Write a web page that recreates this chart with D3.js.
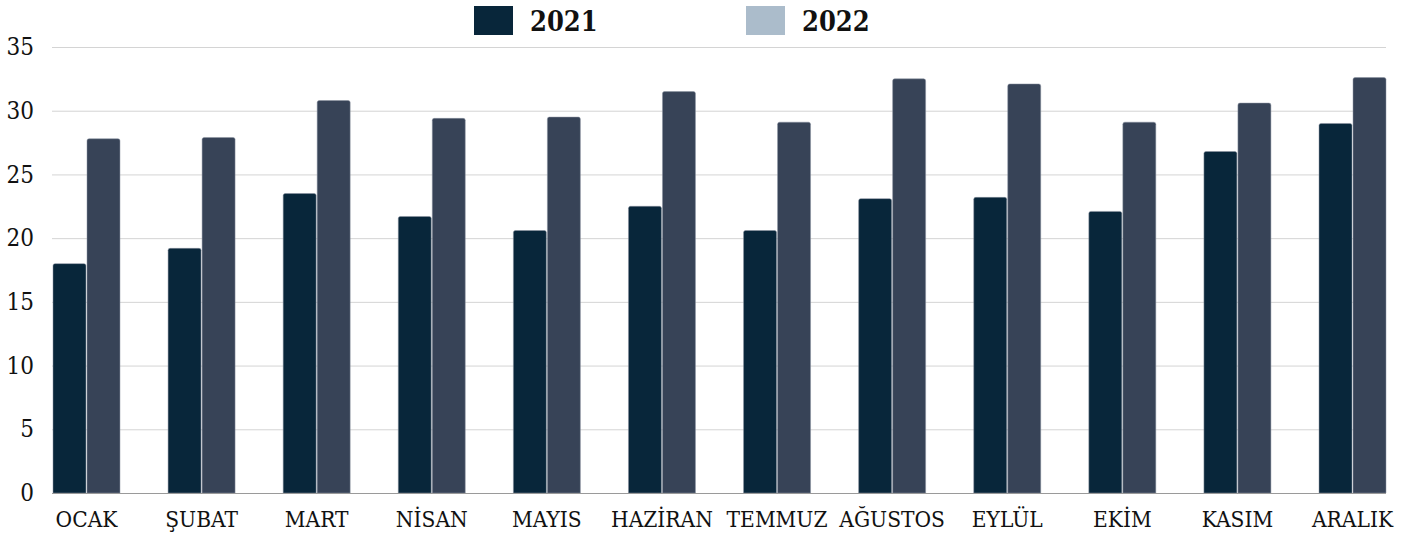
<!DOCTYPE html>
<html>
<head>
<meta charset="utf-8">
<script src="https://cdn.jsdelivr.net/npm/d3@7"></script>
<style>
  html, body { margin: 0; padding: 0; background: #fff; }
  svg { display: block; font-family: "DejaVu Serif Condensed", "DejaVu Serif", serif; }
</style>
</head>
<body>
<div id="chart"></div>
<script>
// Monthly values, 2021 vs 2022
const months = ['OCAK', 'ŞUBAT', 'MART', 'NİSAN', 'MAYIS', 'HAZİRAN', 'TEMMUZ', 'AĞUSTOS', 'EYLÜL', 'EKİM', 'KASIM', 'ARALIK'];
const series = ['2021', '2022'];
const values2021 = [18.0, 19.2, 23.5, 21.7, 20.6, 22.5, 20.6, 23.1, 23.2, 22.1, 26.8, 29.0];
const values2022 = [27.8, 27.9, 30.8, 29.4, 29.5, 31.5, 29.1, 32.5, 32.1, 29.1, 30.6, 32.6];
const yTicks = [0, 5, 10, 15, 20, 25, 30, 35];

(function(){
  const width = 1414, height = 535;
  const barColor = {'2021': '#08263a', '2022': '#374357'};
  const legendColor = {'2021': '#08263a', '2022': '#abbccb'};

  const rows = months.map((m, i) => ({month: m, '2021': values2021[i], '2022': values2022[i]}));

  const svg = d3.select('#chart').append('svg')
    .attr('width', width)
    .attr('height', height);

  const x0 = d3.scaleBand()
    .domain(months)
    .range([53, 1386])
    .paddingInner(0.418)
    .paddingOuter(0);

  const x1 = d3.scaleBand()
    .domain(series)
    .range([0, x0.bandwidth()])
    .paddingInner(0.03);

  const y = d3.scaleLinear()
    .domain([0, 35])
    .range([493, 47]);

  // Gridlines
  svg.append('g')
    .selectAll('line')
    .data(yTicks.filter(d => d > 0))
    .join('line')
    .attr('x1', 52).attr('x2', 1386)
    .attr('y1', d => y(d) + 0.5).attr('y2', d => y(d) + 0.5)
    .attr('stroke', '#d4d4d4')
    .attr('stroke-width', 1);

  // Y tick labels
  const yAxis = svg.append('g')
    .attr('transform', 'translate(52,0)')
    .call(d3.axisLeft(y).tickValues(yTicks).tickSize(0).tickPadding(18));
  yAxis.select('.domain').remove();
  yAxis.selectAll('text')
    .attr('font-family', '"DejaVu Serif Condensed", "DejaVu Serif", serif')
    .attr('font-size', 24)
    .attr('fill', '#111');

  // Bars with slightly rounded tops
  function barPath(xp, w, yTop, yBase, r) {
    return `M${xp},${yBase}V${yTop + r}Q${xp},${yTop} ${xp + r},${yTop}H${xp + w - r}Q${xp + w},${yTop} ${xp + w},${yTop + r}V${yBase}Z`;
  }

  const groups = svg.append('g')
    .selectAll('g')
    .data(rows)
    .join('g')
    .attr('transform', d => `translate(${x0(d.month)},0)`);

  groups.selectAll('path')
    .data(d => series.map(s => ({key: s, value: d[s]})))
    .join('path')
    .attr('d', d => barPath(x1(d.key), x1.bandwidth(), y(d.value), y(0), 2))
    .attr('fill', d => barColor[d.key])
    .attr('stroke', '#8a93a0')
    .attr('stroke-width', 0.5);

  // Baseline
  svg.append('line')
    .attr('x1', 52).attr('x2', 1386)
    .attr('y1', y(0) + 0.5).attr('y2', y(0) + 0.5)
    .attr('stroke', '#9a9a9a')
    .attr('stroke-width', 1);

  // X labels
  const xAxis = svg.append('g')
    .attr('transform', `translate(0,${y(0)})`)
    .call(d3.axisBottom(x0).tickSize(0).tickPadding(18));
  xAxis.select('.domain').remove();
  xAxis.selectAll('text')
    .attr('font-family', '"DejaVu Serif Condensed", "DejaVu Serif", serif')
    .attr('font-size', 22.5)
    .attr('fill', '#111');

  // Legend
  const legendX = {'2021': 474, '2022': 746};
  const legend = svg.append('g')
    .selectAll('g')
    .data(series)
    .join('g')
    .attr('transform', d => `translate(${legendX[d]},6)`);
  legend.append('rect')
    .attr('width', 39).attr('height', 29)
    .attr('fill', d => legendColor[d]);
  legend.append('text')
    .attr('x', 56).attr('y', 25)
    .attr('font-size', 27)
    .attr('font-weight', 'bold')
    .attr('fill', '#111')
    .text(d => d);
})();
</script>
</body>
</html>
